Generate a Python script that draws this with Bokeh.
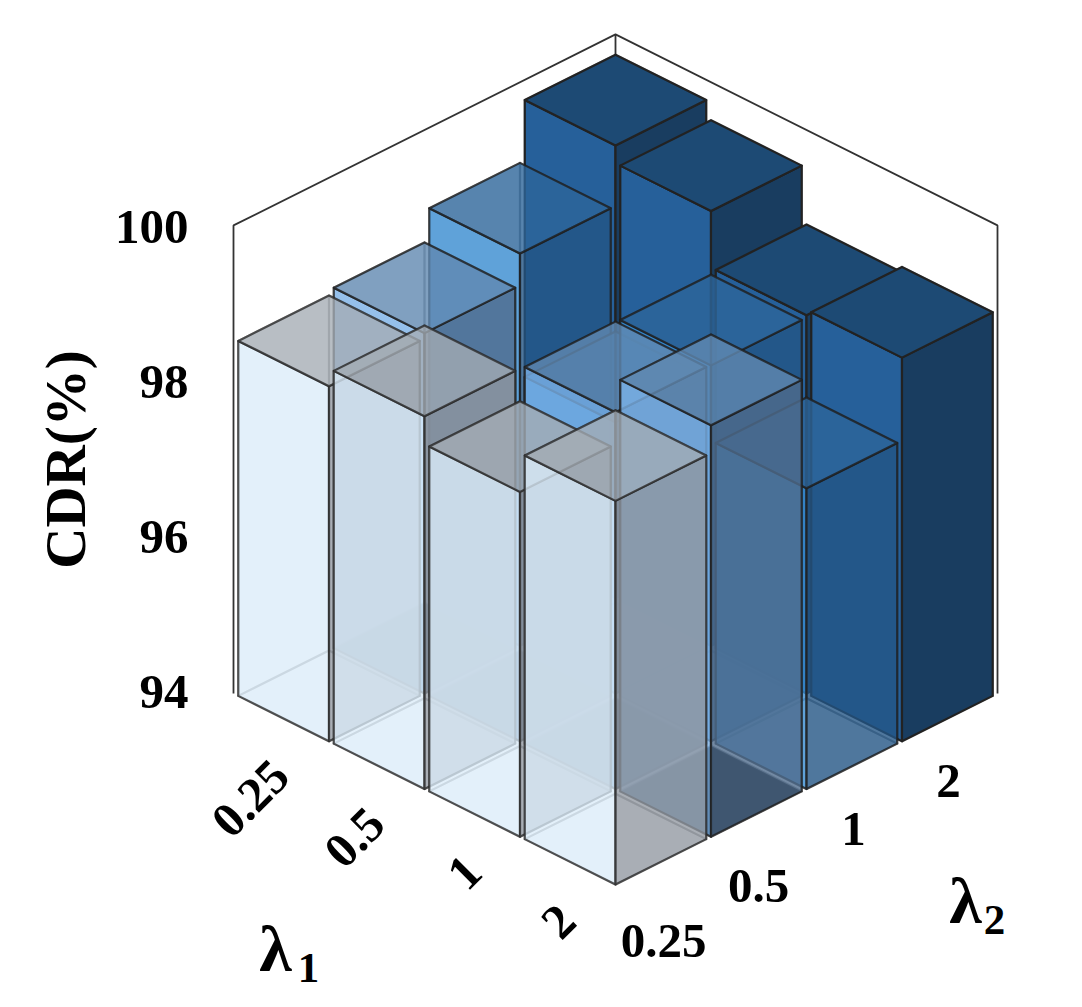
from bokeh.plotting import figure
from bokeh.embed import file_html
from bokeh.resources import INLINE
from bokeh.models import ColumnDataSource
from bokeh.core.properties import value

# --- data -----------------------------------------------------------
lam1_labels = ["0.25", "0.5", "1", "2"]
lam2_labels = ["0.25", "0.5", "1", "2"]
z_ticks = [94, 96, 98, 100]
# CDR(%) per lambda_2 series, listed along lambda_1
cdr_l2_025 = [98.58, 98.81, 98.45, 98.95]
cdr_l2_05 = [98.65, 97.21, 98.86, 99.31]
cdr_l2_1 = [99.06, 97.5, 98.85, 97.88]
cdr_l2_2 = [99.84, 99.61, 98.88, 98.95]
series = [cdr_l2_025, cdr_l2_05, cdr_l2_1, cdr_l2_2]

# series styling: left face, right face, top face, bottom face, edge, alpha
styles = [
    dict(left="#dbecf9", right="#9197a0", top="#a4acb4", bottom=None, edge="#2a2a2a", alpha=0.78),
    dict(left="#7ab0e6", right="#4f6c8c", top="#6088b0", bottom="#000000", edge="#1f1f1f", alpha=0.8),
    dict(left="#378bcf", right="#235584", top="#2d659a", bottom=None, edge="#1f1f1f", alpha=0.8),
    dict(left="#26609a", right="#193d60", top="#1d4a74", bottom=None, edge="#222222", alpha=1.0),
]

# --- projection (isometric) -----------------------------------------
X0, Y0, CELL_X, CELL_Y, Z_PX = 233.0, 693.0, 95.5, 47.75, 77.5
Z_BASE, Z_TOP = 94.0, 100.0
INSET = 0.05


def proj(a, b, z=Z_BASE):
    return X0 + CELL_X * (a + b), Y0 + CELL_Y * (a - b) - Z_PX * (z - Z_BASE)


def face(points):
    xy = [proj(*pt) for pt in points]
    return [q[0] for q in xy], [q[1] for q in xy]


W, H = 1066, 995
p = figure(width=W, height=H, output_backend="svg", toolbar_location=None,
           x_range=(0, W), y_range=(H, 0), min_border=0,
           outline_line_color=None, background_fill_color="white",
           border_fill_color="white")
p.axis.visible = False
p.grid.visible = False

BOX = "#333333"
outline = [[(0, 0, Z_BASE), (0, 0, Z_TOP + 0.04), (0, 4, Z_TOP + 0.04), (4, 4, Z_TOP + 0.04), (4, 4, Z_BASE)],
           [(0, 4, Z_TOP + 0.04), (0, 4, Z_BASE)]]
for seg in outline:
    xs, ys = face(seg)
    p.line(xs, ys, line_color=BOX, line_width=1.8)

xs_all, ys_all, fill, falpha, lcol, lalpha, lw = [], [], [], [], [], [], []


def add(points, color, st, fill_a=None, width=2.2, line_a=None):
    xs, ys = face(points)
    xs_all.append(xs)
    ys_all.append(ys)
    fill.append(color if color else "white")
    falpha.append(st["alpha"] if fill_a is None else fill_a)
    lcol.append(st["edge"])
    lalpha.append(st["alpha"] if line_a is None else line_a)
    lw.append(width)


for i in range(4):
    for j in range(3, -1, -1):
        z = series[j][i]
        st = styles[j]
        a0, a1, b0, b1 = i + INSET, i + 1.0, j + 0.0, j + 1 - INSET
        # bottom, back faces
        hidden = 0.3
        add([(a0, b0), (a1, b0), (a1, b1), (a0, b1)], st["bottom"], st,
            1.0 if st["bottom"] else 0.0, line_a=hidden)
        add([(a0, b0, Z_BASE), (a0, b1, Z_BASE), (a0, b1, z), (a0, b0, z)], None, st, 0.0, line_a=hidden)
        add([(a0, b1, Z_BASE), (a1, b1, Z_BASE), (a1, b1, z), (a0, b1, z)], None, st, 0.0, line_a=hidden)
        # visible faces
        add([(a0, b0, Z_BASE), (a1, b0, Z_BASE), (a1, b0, z), (a0, b0, z)], st["left"], st)
        add([(a1, b0, Z_BASE), (a1, b1, Z_BASE), (a1, b1, z), (a1, b0, z)], st["right"], st)
        add([(a0, b0, z), (a1, b0, z), (a1, b1, z), (a0, b1, z)], st["top"], st)

src = ColumnDataSource(dict(xs=xs_all, ys=ys_all, fill=fill, falpha=falpha, lcol=lcol, lalpha=lalpha, lw=lw))
p.patches("xs", "ys", source=src, fill_color="fill", fill_alpha="falpha",
          line_color="lcol", line_alpha="lalpha", line_width="lw", line_join="round")

FONT = value("Liberation Serif")


def label(x, y, txt, size, angle=0.0, align="center"):
    p.text([x], [y], text=[txt], text_font=FONT, text_font_style="bold",
           text_font_size=f"{size}px", text_color="black", angle=angle,
           text_align=align, text_baseline="middle")


for t in z_ticks:
    tx, ty = proj(0, 0, t)
    label(tx - 45, ty - 2, str(t), 49, align="right")

lam1_pos = [(250, 798), (354, 837), (464, 872), (558, 921)]
for (lx, ly), t in zip(lam1_pos, lam1_labels):
    label(lx, ly, t, 49, angle=0.785)

lam2_pos = [(663, 940), (758, 885), (853, 828), (948, 780)]
for (lx, ly), t in zip(lam2_pos, lam2_labels):
    label(lx, ly, t, 49)

label(65, 459, "CDR(%)", 57, angle=1.5708)
label(275, 948, "λ", 66)
label(308, 967, "1", 43)
label(965, 900, "λ", 66)
label(994, 919, "2", 43)

open("out.html", "w").write(file_html(p, INLINE))
